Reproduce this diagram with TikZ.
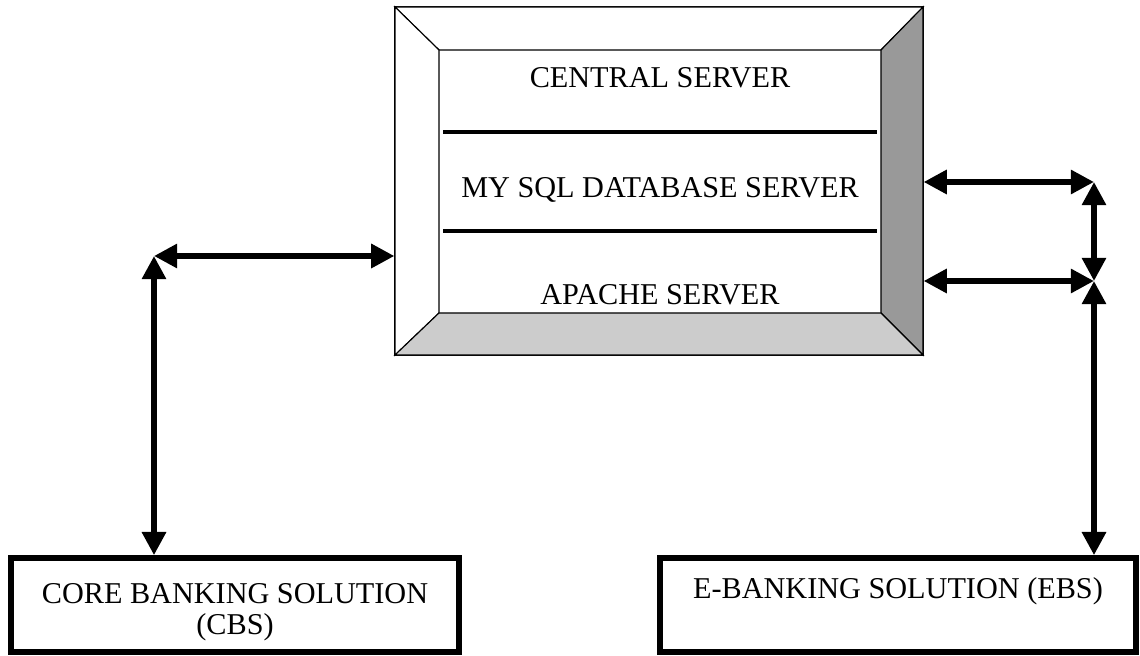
\documentclass[tikz,border=0pt]{standalone}
\usepackage{fontspec}
\setmainfont{Liberation Serif}
\usetikzlibrary{arrows.meta}

\begin{document}
\begin{tikzpicture}[x=0.025cm,y=-0.025cm]
        \tikzstyle{every node} = [rectangle, font=\fontsize{21.5}{22}\selectfont]
        \tikzstyle{link} = [line width=4pt, {Triangle[length=16.5pt,width=16.5pt]}-{Triangle[length=16.5pt,width=16.5pt]}]
        \tikzstyle{sep} = [line width=3.5pt]
        \tikzstyle{rim} = [line width=0.8pt]
        \tikzstyle{solution} = [draw, line width=4pt, minimum height=2.35cm, align=center]
        \useasboundingbox (0,0) rectangle (1140,656);

        % central server with bevelled rim
        \node[draw, rim, inner sep=0, minimum width=13.2cm, minimum height=8.7cm] (server) at (659,181) {};
        \filldraw[rim, fill=white] (395,7) -- (923,7) -- (881,50) -- (439,50) -- cycle;
        \filldraw[rim, fill=white] (395,7) -- (439,50) -- (439,313) -- (395,355) -- cycle;
        \filldraw[rim, fill=black!40] (923,7) -- (923,355) -- (881,313) -- (881,50) -- cycle;
        \filldraw[rim, fill=black!20] (395,355) -- (923,355) -- (881,313) -- (439,313) -- cycle;
        \draw[sep] (443,132) -- (877,132);
        \draw[sep] (443,231) -- (877,231);

        \node (central) at (660,78) {CENTRAL SERVER};
        \node (mysql) at (660,190) {MY SQL DATABASE SERVER};
        \node (apache) at (660,295) {APACHE SERVER};

        \node[solution, minimum width=11.2cm] (cbs) at (235,605) {\rule{0pt}{24pt}CORE BANKING SOLUTION\\(CBS)};
        \node[solution, minimum width=11.9cm] (ebs) at (898,605) {\rule{0pt}{19pt}E-BANKING SOLUTION (EBS)\\\strut};

        \coordinate (cbsjoin) at (154,256);
        \coordinate (cbslink) at (server.west |- cbsjoin);
        \coordinate (cbsport) at (cbs.north -| cbsjoin);
        \coordinate (ebsupper) at (1094,182);
        \coordinate (ebslower) at (1094,281);
        \coordinate (dbport) at (server.east |- ebsupper);
        \coordinate (webport) at (server.east |- ebslower);
        \coordinate (ebsport) at (ebs.north -| ebslower);

        \foreach \from/\to in {cbsjoin/cbslink, cbsjoin/cbsport, dbport/ebsupper, webport/ebslower, ebsupper/ebslower, ebslower/ebsport}
            \draw[link] (\from) -- (\to);
\end{tikzpicture}
\end{document}
